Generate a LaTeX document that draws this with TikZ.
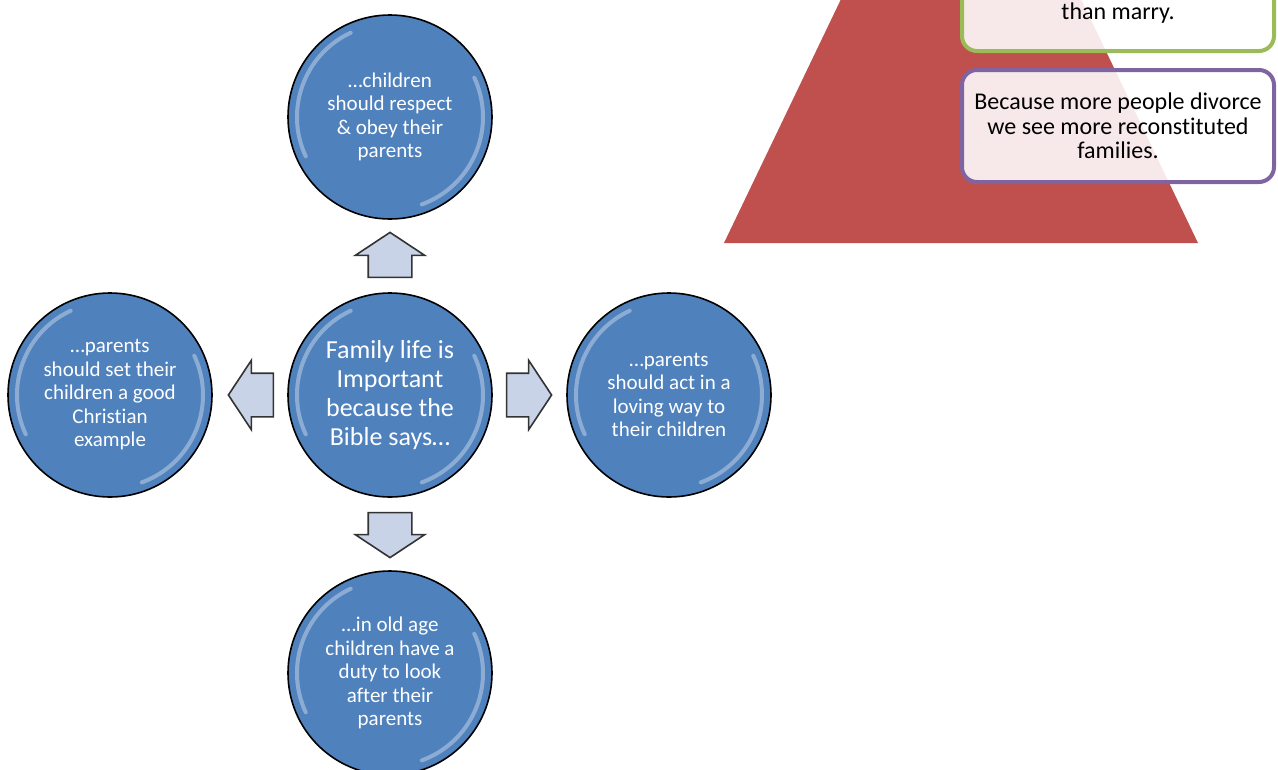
\documentclass[tikz,border=0pt]{standalone}
\usepackage{fontspec}
\setmainfont{Carlito}[Ligatures=NoCommon]
\usetikzlibrary{positioning,calc,shapes.arrows}

\definecolor{ballblue}{HTML}{4F81BD}
\definecolor{arrowfill}{HTML}{C8D3E8}
\definecolor{pyramidred}{HTML}{C0504D}
\definecolor{boxgreen}{HTML}{9BBB59}
\definecolor{boxpurple}{HTML}{8064A2}

\begin{document}
\begin{tikzpicture}[
  x=1pt, y=1pt,
  every node/.style={font=\fontsize{21}{23.5}\selectfont},
  bubble/.style={circle, draw=black, line width=1.6pt, fill=ballblue, minimum size=204pt, inner sep=0pt, text=white, align=center},
  gloss/.style={white, opacity=0.35, line width=4pt, line cap=round},
  blockarrow/.style={single arrow, draw=black!80, line width=1.6pt, fill=arrowfill, minimum height=45pt, single arrow head extend=13pt, single arrow tip angle=113, inner xsep=0pt, inner ysep=21pt, anchor=tail},
  note/.style={rectangle, rounded corners=15pt, line width=4pt, fill=white, fill opacity=0.88, text opacity=1, minimum width=312pt, minimum height=112pt, align=center, font=\fontsize{24}{24.4}\selectfont}
]
\useasboundingbox (0,0) rectangle (1278,-769);
\clip (0,0) rectangle (1278,-769);

% pyramid and notes
\fill[pyramidred] (961,251) -- (724,-243) -- (1198,-243) -- cycle;
\node[note, draw=boxgreen] (marry) at (1118,5) {};
\node[font=\fontsize{24}{24.4}\selectfont] (marrytext) at (1118,-13) {than marry.};
\node[note, draw=boxpurple] (divorce) at (1118,-126) {Because more people divorce\\we see more reconstituted\\families.};

% circles
\node[bubble, font=\fontsize{26}{29}\selectfont] (hub) at (390,-395) {Family life is\\Important\\because the\\Bible says\dots};
\node[bubble] (obey) at (390,-117) {\dots children\\should respect\\\& obey their\\parents};
\node[bubble] (example) at (110,-395) {\dots parents\\should set their\\children a good\\Christian\\example};
\node[bubble] (loving) at (669,-395) {\dots parents\\should act in a\\loving way to\\their children};
\node[bubble] (oldage) at (390,-673) {\dots in old age\\children have a\\duty to look\\after their\\parents};

\foreach \n in {hub, obey, example, loving, oldage} {
  \draw[gloss] ($(\n.center)+(115:93)$) arc[start angle=115, end angle=205, radius=93];
  \draw[gloss] ($(\n.center)+(-70:93)$) arc[start angle=-70, end angle=25, radius=93];
}

% arrows
\node[blockarrow, rotate=90] (toobey) at ($(hub.north)+(0,14)$) {};
\node[blockarrow, rotate=180] (toexample) at ($(hub.west)+(-13,0)$) {};
\node[blockarrow] (toloving) at ($(hub.east)+(13,0)$) {};
\node[blockarrow, rotate=-90] (tooldage) at ($(hub.south)+(0,-14)$) {};

\end{tikzpicture}
\end{document}
